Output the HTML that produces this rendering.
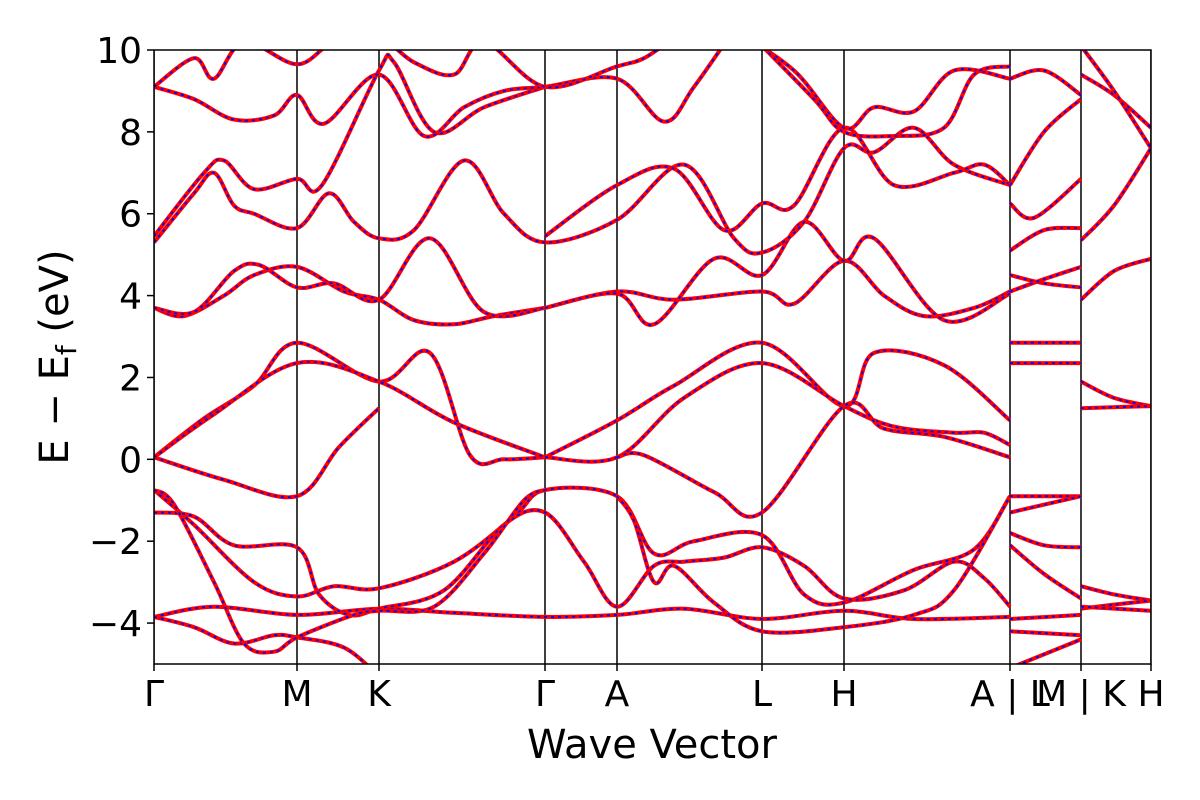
<!DOCTYPE html>
<html><head><meta charset="utf-8"><style>
html,body{margin:0;padding:0;background:#fff;}
svg{display:block;font-family:"DejaVu Sans","Liberation Sans",sans-serif;}
</style></head><body>
<svg id="chart" width="1200" height="800" viewBox="0 0 1200 800" xmlns="http://www.w3.org/2000/svg">
<defs><clipPath id="plotclip"><rect x="154" y="50" width="997" height="614"/></clipPath></defs>
<g id="bands" clip-path="url(#plotclip)"></g>
<g id="axes"></g>
</svg>
<script>
// k-path high-symmetry points (path length units)
const kTicks = [0, 143, 225, 391, 463, 608, 690, 856, 927, 997];
const kLabels = ["Γ", "M", "K", "Γ", "A", "L", "H", "A | L", "M | K", "H"];
const yTicks = [-4, -2, 0, 2, 4, 6, 8, 10];
const eMin = -5, eMax = 10;
// each band: [k, E(eV)] pairs
const bandsMain = [
  [[0,-3.85],[60,-3.6],[143,-3.8],[225,-3.65],[300,-3.75],[391,-3.85],[463,-3.8],[530,-3.65],[608,-3.9],[690,-3.7],[760,-3.9],[856,-3.85]],
  [[0,-3.85],[40,-4.1],[80,-4.5],[120,-4.3],[143,-4.35],[190,-4.6],[225,-5.3]],
  [[0,-0.75],[40,-1.6],[100,-3.0],[143,-3.35],[180,-3.1],[225,-3.15],[300,-2.5],[360,-1.4],[391,-0.75],[463,-0.9],[500,-2.3],[540,-2.0],[608,-1.85],[650,-3.3],[690,-3.5],[760,-2.7],[820,-2.2],[856,-0.9]],
  [[0,-1.3],[40,-1.4],[80,-2.1],[143,-2.15],[165,-3.3],[195,-3.8],[225,-3.65],[290,-3.2],[350,-1.6],[391,-1.3],[430,-2.5],[463,-3.6],[500,-2.6],[530,-2.5],[570,-2.4],[608,-2.15],[650,-2.6],[690,-3.4],[750,-3.2],[800,-2.5],[830,-2.9],[856,-3.6]],
  [[0,-0.75],[20,-1.1],[60,-3.0],[90,-4.5],[120,-4.7],[143,-4.35],[200,-3.8],[225,-3.7],[280,-3.6],[330,-2.3],[370,-1.0],[391,-0.75]],
  [[463,-0.9],[480,-1.5],[500,-3.0],[520,-2.6],[560,-3.5],[608,-4.2],[690,-4.1],[760,-3.8],[800,-3.2],[856,-0.9]],
  [[0,0.05],[70,-0.5],[143,-0.9],[185,0.3],[225,1.25]],
  [[0,0.05],[50,1.0],[100,1.8],[143,2.85],[225,1.9],[276,2.6],[316,0.1],[350,0.0],[391,0.05]],
  [[0,0.05],[60,1.1],[143,2.35],[225,1.9],[300,0.9],[391,0.05]],
  [[391,0.05],[463,0.95],[520,1.8],[608,2.85],[690,1.3],[720,2.6],[790,2.3],[856,0.95]],
  [[391,0.05],[463,0.05],[530,1.5],[608,2.35],[690,1.3],[740,0.8],[800,0.65],[830,0.65],[856,0.35]],
  [[463,0.05],[490,0.1],[560,-0.8],[608,-1.3],[690,1.3],[730,0.75],[790,0.55],[856,0.05]],
  [[0,3.7],[30,3.5],[70,4.0],[100,4.5],[143,4.7],[190,4.1],[225,3.9],[260,3.4],[300,3.3],[340,3.5],[391,3.7]],
  [[0,3.7],[40,3.6],[80,4.6],[105,4.75],[143,4.2],[180,4.3],[225,3.9],[276,5.4],[330,3.6],[391,3.7]],
  [[391,3.7],[463,4.1],[520,3.9],[608,4.1],[640,3.8],[690,4.85],[730,4.0],[770,3.5],[820,3.7],[856,4.1]],
  [[391,3.7],[463,4.05],[500,3.3],[560,4.9],[608,4.5],[650,5.8],[690,4.85],[720,5.4],[790,3.4],[856,4.05]],
  [[0,5.3],[40,6.5],[60,7.0],[80,6.2],[100,6.0],[143,5.65],[175,6.5],[200,5.8],[225,5.4],[260,5.6],[310,7.3],[350,6.0],[391,5.3],[463,5.85],[530,7.2],[580,5.4],[608,5.05],[650,5.8],[690,7.6],[720,7.5],[760,8.1],[800,7.2],[856,6.7]],
  [[0,5.45],[50,7.0],[70,7.3],[100,6.6],[143,6.85],[168,6.7],[225,9.5],[240,9.7],[280,8.0],[330,8.6],[391,9.1]],
  [[391,5.45],[463,6.7],[520,7.1],[570,5.6],[608,6.25],[640,6.2],[690,8.1],[740,6.7],[800,7.0],[830,7.2],[856,6.7]],
  [[0,9.1],[40,8.8],[80,8.3],[120,8.4],[143,8.9],[170,8.2],[225,9.4],[270,7.9],[310,8.6],[350,9.0],[391,9.1],[463,9.3],[510,8.25],[540,9.1],[580,10.5]],
  [[0,9.1],[40,9.8],[60,9.3],[90,10.2],[143,9.65],[180,10.2],[225,10.3],[260,9.7],[300,9.4],[330,10.2],[391,9.1],[463,9.6],[490,9.8],[520,10.3]],
  [[580,10.5],[640,9.5],[690,8.1],[720,8.6],[760,8.5],[800,9.5],[856,9.3]],
  [[600,10.3],[660,8.8],[690,8.0],[740,7.9],[790,8.1],[820,9.4],[856,9.6]]
];
const bandsAL = [
  [[856,2.85],[927,2.85]],[[856,2.35],[927,2.35]],
  [[856,4.5],[890,4.3],[927,4.2]],[[856,4.1],[890,4.4],[927,4.7]],
  [[856,5.1],[890,5.6],[927,5.65]],[[856,6.25],[880,5.9],[927,6.85]],
  [[856,6.7],[890,8.0],[927,8.8]],[[856,9.3],[890,9.5],[927,8.9]],
  [[856,-0.9],[890,-0.9],[927,-0.9]],[[856,-1.3],[927,-0.9]],
  [[856,-1.8],[890,-2.1],[927,-2.15]],[[856,-2.1],[890,-2.8],[927,-3.4]],
  [[856,-3.9],[927,-3.8]],[[856,-4.2],[927,-4.3]],[[856,-5.1],[927,-4.4]]
];
const bandsKH = [
  [[927,1.9],[960,1.5],[997,1.3]],[[927,1.25],[997,1.3]],
  [[927,3.9],[960,4.6],[997,4.9]],[[927,5.35],[960,6.2],[997,7.6]],
  [[927,9.4],[960,8.9],[997,8.1]],[[927,10.1],[960,9.0],[997,7.6]],
  [[927,-3.1],[960,-3.3],[997,-3.45]],[[927,-3.65],[960,-3.55],[997,-3.45]],
  [[927,-3.6],[997,-3.7]]
];
const X0=154,X1=1151,Y0=50,Y1=664;
const kMax = kTicks[kTicks.length-1];
function xs(k){return X0+(k/kMax)*(X1-X0);}
function ys(e){return Y1-(e-eMin)/(eMax-eMin)*(Y1-Y0);}
function pathFor(pts){
  const p=pts.map(a=>[xs(a[0]),ys(a[1])]);
  let d="M"+p[0][0].toFixed(1)+","+p[0][1].toFixed(1);
  for(let i=0;i<p.length-1;i++){
    const a=p[i-1]||p[i],b=p[i],c=p[i+1],e=p[i+2]||c;
    const c1=[b[0]+(c[0]-a[0])/6,b[1]+(c[1]-a[1])/6];
    const c2=[c[0]-(e[0]-b[0])/6,c[1]-(e[1]-b[1])/6];
    d+=" C"+c1[0].toFixed(1)+","+c1[1].toFixed(1)+" "+c2[0].toFixed(1)+","+c2[1].toFixed(1)+" "+c[0].toFixed(1)+","+c[1].toFixed(1);
  }
  return d;
}
const NS="http://www.w3.org/2000/svg";
const g=document.getElementById("bands");
const ax=document.getElementById("axes");
kTicks.forEach((k,i)=>{
  const l=document.createElementNS(NS,"line");
  l.setAttribute("x1",xs(k));l.setAttribute("x2",xs(k));l.setAttribute("y1",Y0);l.setAttribute("y2",Y1);
  l.setAttribute("stroke","#000");l.setAttribute("stroke-width","1.5");
  
  
  g.appendChild(l);
});
const all=bandsMain.concat(bandsAL,bandsKH);
all.forEach((b,i)=>{
  const d=pathFor(b);
  const r=document.createElementNS(NS,"path");
  r.setAttribute("d",d);r.setAttribute("fill","none");r.setAttribute("stroke","#ff0000");r.setAttribute("stroke-width","4");
  
  
  g.appendChild(r);
  const bl=document.createElementNS(NS,"path");
  bl.setAttribute("d",d);bl.setAttribute("fill","none");bl.setAttribute("stroke","#0000ff");bl.setAttribute("stroke-width","1.8");bl.setAttribute("stroke-dasharray","3,4");
  
  
  g.appendChild(bl);
});
const fr=document.createElementNS(NS,"rect");
fr.setAttribute("x",X0);fr.setAttribute("y",Y0);fr.setAttribute("width",X1-X0);fr.setAttribute("height",Y1-Y0);
fr.setAttribute("fill","none");fr.setAttribute("stroke","#000");fr.setAttribute("stroke-width","1.5");


ax.appendChild(fr);
yTicks.forEach(v=>{
  const t=document.createElementNS(NS,"line");
  t.setAttribute("x1",X0-7);t.setAttribute("x2",X0);t.setAttribute("y1",ys(v));t.setAttribute("y2",ys(v));t.setAttribute("stroke","#000");t.setAttribute("stroke-width","1.5");
  
  
  ax.appendChild(t);
  const tx=document.createElementNS(NS,"text");
  tx.setAttribute("x",X0-12);tx.setAttribute("y",ys(v)+13);tx.setAttribute("text-anchor","end");tx.setAttribute("font-size","36");
  tx.textContent=(v<0?"\u2212"+Math.abs(v):String(v));
  
  
  ax.appendChild(tx);
});
kTicks.forEach((k,i)=>{
  const t=document.createElementNS(NS,"line");
  t.setAttribute("x1",xs(k));t.setAttribute("x2",xs(k));t.setAttribute("y1",Y1);t.setAttribute("y2",Y1+7);t.setAttribute("stroke","#000");t.setAttribute("stroke-width","1.5");
  
  
  ax.appendChild(t);
  const tx=document.createElementNS(NS,"text");
  tx.setAttribute("x",xs(k));tx.setAttribute("y",706);tx.setAttribute("text-anchor","middle");tx.setAttribute("font-size","36");
  tx.textContent=kLabels[i];
  
  
  ax.appendChild(tx);
});
</script>
<script>
(function(){
const NS="http://www.w3.org/2000/svg";
const ax=document.getElementById("axes");
const xt=document.createElementNS(NS,"text");
xt.setAttribute("x",652);xt.setAttribute("y",758);xt.setAttribute("text-anchor","middle");xt.setAttribute("font-size","40");
xt.textContent="Wave Vector";


ax.appendChild(xt);
const yt=document.createElementNS(NS,"text");
yt.setAttribute("transform","translate(68,357) rotate(-90)");yt.setAttribute("text-anchor","middle");yt.setAttribute("font-size","40");
yt.innerHTML='E \u2212 E<tspan font-size="28" dy="8">f</tspan><tspan dy="-8"> (eV)</tspan>';


ax.appendChild(yt);
})();
</script>
</body></html>
